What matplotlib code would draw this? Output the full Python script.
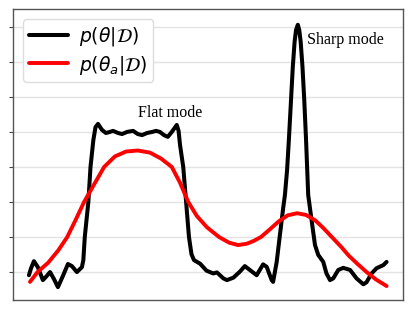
import matplotlib
matplotlib.use("Agg")
import matplotlib.pyplot as plt

# posterior over theta (black)
theta_x = [0.00, 0.06, 0.14, 0.25, 0.39, 0.50, 0.59, 0.70, 0.81, 0.95,
           1.09, 1.20, 1.34, 1.48, 1.52, 1.56, 1.66, 1.72, 1.80, 1.86,
           1.93, 2.04, 2.15, 2.26, 2.35, 2.49, 2.60, 2.74, 2.91, 3.04,
           3.16, 3.30, 3.44, 3.55, 3.66, 3.77, 3.88, 3.99, 4.13, 4.18,
           4.22, 4.31, 4.39, 4.47, 4.54, 4.61, 4.78, 4.96, 5.15, 5.25,
           5.43, 5.53, 5.71, 5.89, 6.03, 6.17, 6.36, 6.54, 6.64, 6.78,
           6.82, 6.92, 7.01, 7.10, 7.15, 7.21, 7.26, 7.32, 7.37, 7.42,
           7.46, 7.51, 7.55, 7.59, 7.64, 7.69, 7.74, 7.80, 7.90, 7.99,
           8.08, 8.22, 8.31, 8.41, 8.50, 8.64, 8.78, 8.97, 9.15, 9.34,
           9.43, 9.57, 9.71, 9.90, 9.99]
theta_p = [-0.09, 0.11, 0.31, 0.14, -0.23, -0.11, 0.00, -0.20, -0.43, -0.11,
           0.23, 0.17, 0.00, 0.14, 0.34, 1.00, 2.00, 3.00, 3.77, 4.14,
           4.23, 4.06, 3.97, 4.00, 4.03, 3.97, 3.94, 4.00, 4.03, 3.94,
           3.91, 3.97, 4.00, 4.03, 4.00, 3.91, 3.86, 4.00, 4.20, 4.03,
           3.63, 3.00, 2.00, 1.00, 0.51, 0.34, 0.24, 0.04, -0.04, -0.01,
           -0.18, -0.23, -0.16, 0.01, 0.17, 0.06, -0.09, 0.22, 0.15, -0.23,
           -0.28, 0.29, 1.06, 1.82, 2.20, 2.91, 3.77, 4.91, 5.86, 6.57,
           6.91, 7.06, 6.91, 6.57, 5.86, 4.91, 3.77, 2.20, 1.44, 0.77,
           0.49, 0.29, -0.04, -0.23, -0.18, 0.06, 0.12, 0.06, -0.18, -0.35,
           -0.29, -0.04, 0.11, 0.20, 0.29]

# smoothed posterior over theta_a (red)
theta_a_x = [0.03, 0.24, 0.54, 0.82, 1.07, 1.31, 1.54, 1.82, 2.10, 2.40,
             2.71, 3.04, 3.38, 3.69, 3.99, 4.22, 4.45, 4.69, 4.97, 5.31,
             5.59, 5.84, 6.09, 6.28, 6.48, 6.73, 6.98, 7.23, 7.49, 7.74,
             7.99, 8.21, 8.46, 8.72, 8.94, 9.19, 9.43, 9.69, 9.99]
theta_a_p = [-0.28, 0.00, 0.27, 0.62, 1.00, 1.50, 2.00, 2.50, 3.00, 3.30,
             3.44, 3.47, 3.41, 3.24, 3.00, 2.55, 2.00, 1.60, 1.28, 1.00,
             0.84, 0.77, 0.81, 0.89, 1.00, 1.22, 1.45, 1.62, 1.68, 1.63,
             1.48, 1.27, 1.00, 0.72, 0.46, 0.22, 0.00, -0.21, -0.40]

grid_levels = list(range(8))

fig = plt.figure(figsize=(4.13, 3.10), dpi=100)
ax = fig.add_axes([0.031, 0.032, 0.945, 0.939])

ax.plot(theta_x, theta_p, color="black", lw=2.9, label=r"$p(\theta|\mathcal{D})$",
        solid_joinstyle="round", solid_capstyle="round", zorder=3)
ax.plot(theta_a_x, theta_a_p, color="red", lw=2.8, label=r"$p(\theta_a|\mathcal{D})$",
        solid_joinstyle="round", solid_capstyle="round", zorder=3)

ax.set_xlim(-0.45, 10.45)
ax.set_ylim(-0.8, 7.51)
ax.set_yticks(grid_levels)
ax.set_yticklabels([])
ax.set_xticks([])
ax.tick_params(axis="y", length=3, width=0.8, color="#444444")
ax.grid(axis="y", color="#e3e3e3", lw=1.0)
ax.set_axisbelow(True)
for sp in ax.spines.values():
    sp.set_color("#555555")
    sp.set_linewidth(1.0)

ax.text(3.04, 4.54, "Flat mode", family="Liberation Serif", fontsize=11.5, va="center")
ax.text(7.77, 6.63, "Sharp mode", family="Liberation Serif", fontsize=11.5, va="center")

ax.legend(loc="upper left", fontsize=13.5, handlelength=2.1, handletextpad=0.6,
          borderpad=0.3, labelspacing=0.3, borderaxespad=0.55,
          framealpha=1.0, edgecolor="#dddddd")

fig.savefig("out.png", dpi=100)
